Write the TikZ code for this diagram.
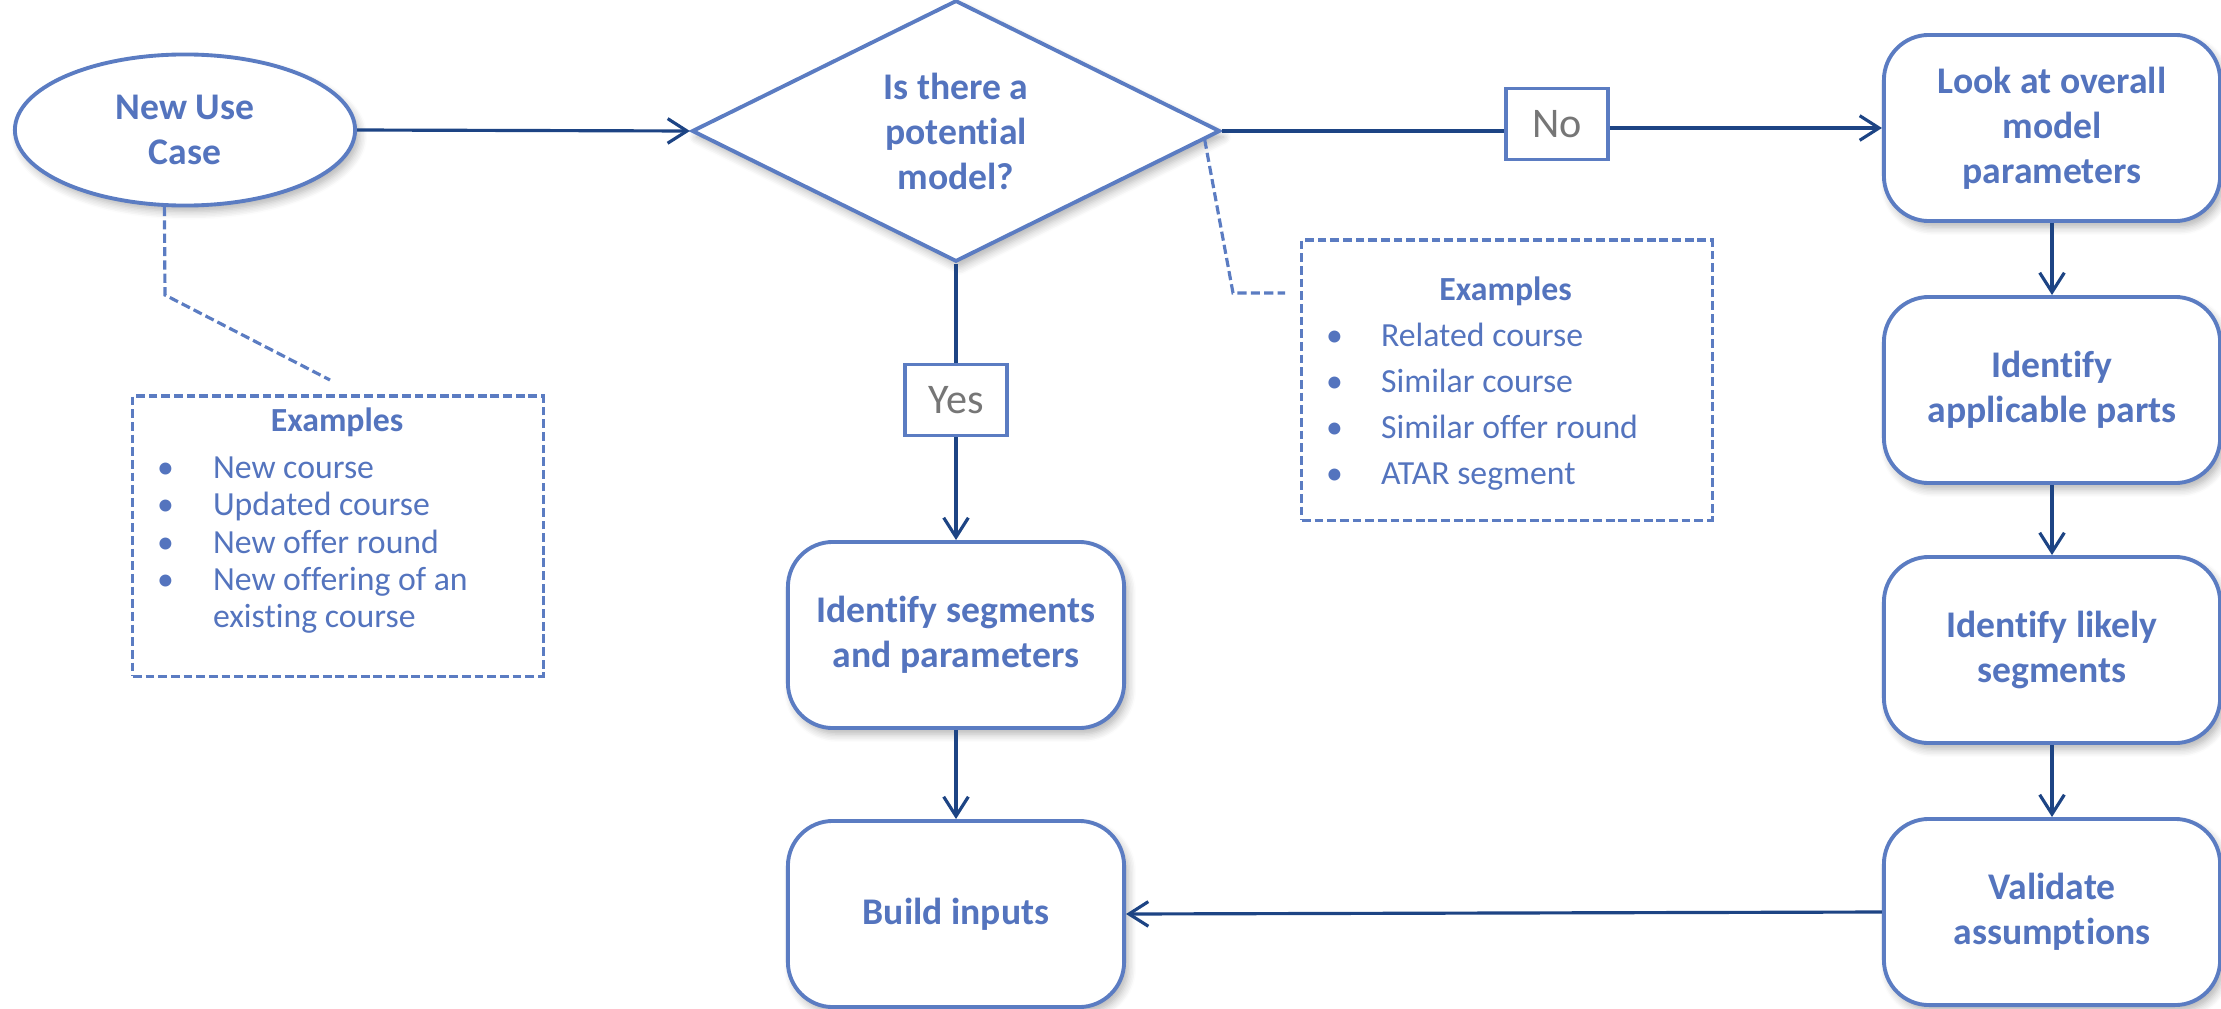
\documentclass[tikz,border=0pt]{standalone}
\usepackage{fontspec}
\setmainfont{Carlito}[Ligatures=NoCommon]
\usepackage{tikz}
\usetikzlibrary{shapes.geometric,arrows.meta,shadows.blur}
\definecolor{boxblue}{RGB}{91,124,194}
\definecolor{txtblue}{RGB}{84,116,190}
\definecolor{arrowblue}{RGB}{29,68,132}
\definecolor{labelgrey}{RGB}{118,118,118}
\tikzset{softshadow/.style={blur shadow={shadow xshift=0.04cm, shadow yshift=-0.06cm,
  shadow blur radius=0.08cm, shadow opacity=30, shadow blur steps=6}}}
\tikzset{stepnode/.style={draw=boxblue, line width=1.1pt, rounded corners=0.45cm, fill=white,
  minimum width=3.36cm, minimum height=1.86cm, align=center, text=txtblue, inner sep=0pt,
  font=\fontsize{10.7}{12.8}\selectfont\bfseries, softshadow}}
\tikzset{startnode/.style={ellipse, draw=boxblue, line width=1.1pt, fill=white,
  minimum width=3.4cm, minimum height=1.51cm, inner sep=0pt, align=center, text=txtblue,
  font=\fontsize{10.7}{12.8}\selectfont\bfseries, softshadow}}
\tikzset{choicenode/.style={diamond, draw=boxblue, line width=1.1pt, fill=white,
  minimum width=5.28cm, minimum height=2.48cm, inner sep=0pt, align=center, text=txtblue,
  font=\fontsize{10.7}{12.8}\selectfont\bfseries, softshadow}}
\tikzset{answerbox/.style={draw=boxblue, line width=1pt, fill=white, text=labelgrey,
  minimum width=1.02cm, minimum height=0.71cm, inner sep=0pt,
  font=\fontsize{12}{14}\selectfont}}
\tikzset{notebox/.style={draw=boxblue, line width=0.9pt, dash pattern=on 2.5pt off 1.1pt,
  minimum width=4.1cm, minimum height=2.8cm}}
\tikzset{listtext/.style={text=txtblue, inner sep=0pt, anchor=base west}}
\tikzset{flow/.style={->, draw=arrowblue, line width=0.9pt}}
\tikzset{link/.style={draw=arrowblue, line width=0.9pt}}
\tikzset{callout/.style={draw=boxblue, line width=0.9pt, dash pattern=on 2.6pt off 1.2pt}}

\begin{document}
\begin{tikzpicture}[x=0.01cm, y=-0.01cm, >={Straight Barb[length=5.5pt,width=7pt]}]
\useasboundingbox (0,0) rectangle (2221,1009);

\node[startnode] (usecase) at (185,130) {New Use\\Case};
\node[choicenode] (decision) at (956,131) {Is there a\\potential\\model?};
\node[answerbox] (no) at (1557,124) {No};
\node[answerbox] (yes) at (956,400) {Yes};

\node[stepnode] (overall) at (2052,128) {Look at overall\\model\\parameters};
\node[stepnode] (applic) at (2052,390) {Identify\\applicable parts};
\node[stepnode] (likely) at (2052,650) {Identify likely\\segments};
\node[stepnode] (validate) at (2052,912) {Validate\\assumptions};
\node[stepnode] (segs) at (956,635) {Identify segments\\and parameters};
\node[stepnode] (build) at (956,914) {Build inputs};

\node[notebox] (ex1) at (338,536) {};
\node[listtext, font=\fontsize{9.6}{10.6}\selectfont, xshift=0.25cm, yshift=-0.37cm] (ex1list) at (ex1.north west) {%
\begin{tabular}[t]{@{}p{0.56cm}@{}p{3.04cm}@{}}
\multicolumn{2}{@{}c@{}}{\bfseries Examples}\\[0.1cm]
\textbullet & New course\\
\textbullet & Updated course\\
\textbullet & New offer round\\
\textbullet & New offering of an\newline existing course
\end{tabular}};

\node[notebox] (ex2) at (1507,380) {};
\node[listtext, font=\fontsize{9.6}{13.1}\selectfont, xshift=0.25cm, yshift=-0.62cm] (ex2list) at (ex2.north west) {%
\begin{tabular}[t]{@{}p{0.55cm}@{}p{3.04cm}@{}}
\multicolumn{2}{@{}c@{}}{\bfseries Examples}\\
\textbullet & Related course\\
\textbullet & Similar course\\
\textbullet & Similar offer round\\
\textbullet & ATAR segment
\end{tabular}};

\coordinate (c1bend) at (165,295);
\coordinate (c1end) at (330,380);
\coordinate (c2bend) at (1233,293);
\coordinate (c2end) at (1285,293);

\draw[callout] (usecase.-105) -- (c1bend) -- (c1end);
\draw[callout] (decision.-2.5) -- (c2bend) -- (c2end);

\draw[flow] (usecase.east) -- (decision.west);
\draw[link] (decision.east) -- (decision.east -| no.west);
\draw[flow] (no.east |- overall.west) -- (overall.west);
\draw[link] (decision.south) -- (yes.north);
\draw[flow] (yes.south) -- (segs.north);
\draw[flow] (segs.south) -- (build.north);
\draw[flow] (overall.south) -- (applic.north);
\draw[flow] (applic.south) -- (likely.north);
\draw[flow] (likely.south) -- (validate.north);
\draw[flow] (validate.west) -- (build.east);
\end{tikzpicture}
\end{document}
